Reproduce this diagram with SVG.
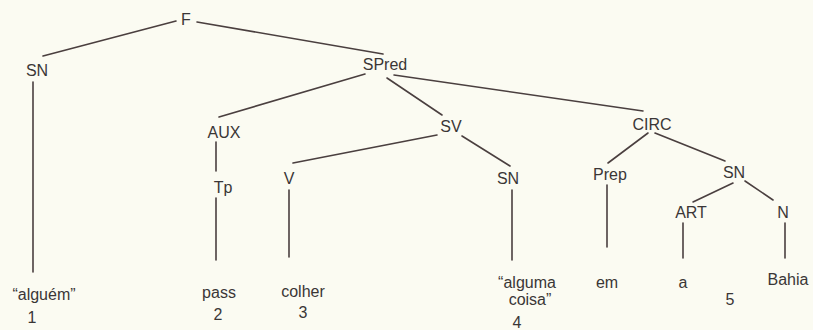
<svg xmlns="http://www.w3.org/2000/svg" width="813" height="330" viewBox="0 0 813 330">
<style>
.bg{fill:#fbfbf2}
.lbl{font-family:"Liberation Sans",Arial,sans-serif;font-size:16px;fill:#3a3636;text-anchor:middle}
.edge{stroke:#4a3f3f;stroke-width:1.6;fill:none;stroke-linecap:round}
</style>
<rect class="bg" x="0" y="0" width="813" height="330"/>
<g id="connectors">
<line class="edge" x1="176" y1="21" x2="43" y2="56"/>
<line class="edge" x1="197" y1="22" x2="383" y2="54"/>
<line class="edge" x1="33" y1="82" x2="33" y2="272"/>
<line class="edge" x1="365" y1="74" x2="219" y2="117"/>
<line class="edge" x1="387" y1="78" x2="442" y2="115"/>
<line class="edge" x1="394" y1="75" x2="643" y2="111"/>
<line class="edge" x1="216" y1="142" x2="216" y2="171"/>
<line class="edge" x1="216" y1="198" x2="216" y2="260"/>
<line class="edge" x1="437" y1="135" x2="293" y2="163"/>
<line class="edge" x1="462" y1="136" x2="510" y2="166"/>
<line class="edge" x1="289" y1="190" x2="289" y2="257"/>
<line class="edge" x1="512" y1="190" x2="512" y2="260"/>
<line class="edge" x1="648" y1="133" x2="608" y2="163"/>
<line class="edge" x1="655" y1="133" x2="725" y2="161"/>
<line class="edge" x1="607" y1="185" x2="607" y2="247"/>
<line class="edge" x1="733" y1="183" x2="693" y2="202"/>
<line class="edge" x1="745" y1="181" x2="773" y2="200"/>
<line class="edge" x1="683" y1="223" x2="683" y2="258"/>
<line class="edge" x1="785" y1="223" x2="785" y2="258"/>
</g>
<g id="node-F"><text class="lbl" x="186" y="25">F</text></g>
<g id="node-SN1"><text class="lbl" x="37" y="76">SN</text></g>
<g id="node-SPred"><text class="lbl" x="385" y="70">SPred</text></g>
<g id="node-AUX"><text class="lbl" x="224" y="138">AUX</text></g>
<g id="node-SV"><text class="lbl" x="451" y="132">SV</text></g>
<g id="node-CIRC"><text class="lbl" x="652" y="130">CIRC</text></g>
<g id="node-Tp"><text class="lbl" x="223" y="193">Tp</text></g>
<g id="node-V"><text class="lbl" x="289" y="184">V</text></g>
<g id="node-SN2"><text class="lbl" x="508" y="184">SN</text></g>
<g id="node-Prep"><text class="lbl" x="610" y="180">Prep</text></g>
<g id="node-SN3"><text class="lbl" x="734" y="178">SN</text></g>
<g id="node-ART"><text class="lbl" x="691" y="218">ART</text></g>
<g id="node-N"><text class="lbl" x="783" y="218">N</text></g>
<g id="leaf-1"><text class="lbl" x="44" y="300">“alguém”</text><text class="lbl" x="32" y="323">1</text></g>
<g id="leaf-2"><text class="lbl" x="219" y="298">pass</text><text class="lbl" x="218" y="320">2</text></g>
<g id="leaf-3"><text class="lbl" x="303" y="297">colher</text><text class="lbl" x="303" y="318">3</text></g>
<g id="leaf-4"><text class="lbl" x="527" y="288">“alguma</text><text class="lbl" x="530" y="305">coisa”</text><text class="lbl" x="517" y="328">4</text></g>
<g id="leaf-em"><text class="lbl" x="607" y="288">em</text></g>
<g id="leaf-a"><text class="lbl" x="683" y="288">a</text></g>
<g id="leaf-Bahia"><text class="lbl" x="788" y="285">Bahia</text></g>
<g id="leaf-5"><text class="lbl" x="730" y="305">5</text></g>
</svg>
